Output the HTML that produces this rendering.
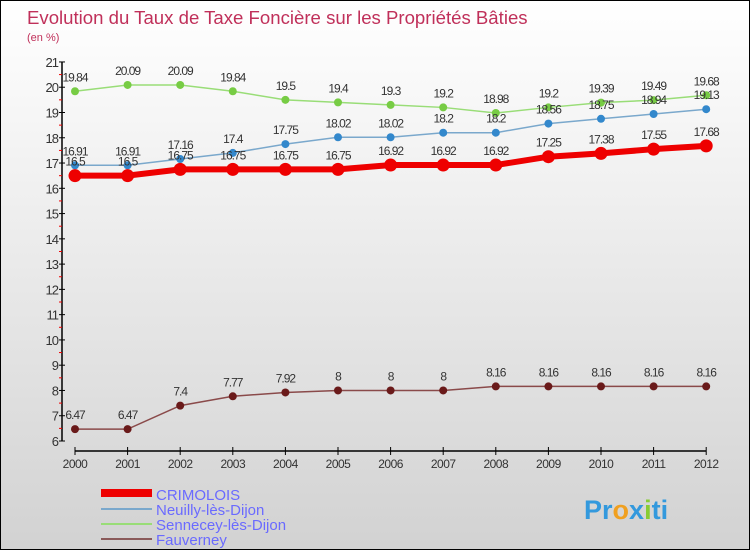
<!DOCTYPE html>
<html><head><meta charset="utf-8"><style>
html,body{margin:0;padding:0}
body{width:750px;height:550px;overflow:hidden;font-family:"Liberation Sans",sans-serif}
#wrap{position:relative;width:748px;height:548px;border:1px solid #000;background:linear-gradient(#ffffff 0%,#f2f2f2 30%,#d2d2d2 100%)}
</style></head><body>
<div id="wrap">
<svg id="chart" width="748" height="548" style="position:absolute;left:0;top:0">
<text x="26" y="23" font-size="18.6" fill="#c0305a">Evolution du Taux de Taxe Foncière sur les Propriétés Bâties</text>
<text x="26" y="40" font-size="11" fill="#c0305a">(en %)</text>
<g id="axes"></g><g id="series"></g>
<g>
<rect x="100" y="488" width="51" height="8" fill="#ee0000"/>
<text x="155" y="499" font-size="15" fill="#6a6aff">CRIMOLOIS</text>
<rect x="100" y="507" width="51" height="2" fill="#7aa8cc"/>
<text x="155" y="514" font-size="15" fill="#6a6aff">Neuilly-lès-Dijon</text>
<rect x="100" y="522" width="51" height="2" fill="#99dd77"/>
<text x="155" y="529" font-size="15" fill="#6a6aff">Sennecey-lès-Dijon</text>
<rect x="100" y="537" width="51" height="2" fill="#8a5a5a"/>
<text x="155" y="544" font-size="15" fill="#6a6aff">Fauverney</text>
</g>
<text x="583" y="518" font-size="27" font-weight="bold"><tspan fill="#3399dd">Pr</tspan><tspan fill="#f0a020">o</tspan><tspan fill="#3399dd">x</tspan><tspan fill="#88cc33">i</tspan><tspan fill="#3399dd">ti</tspan></text>
</svg>
</div>
<script>
const years=[2000,2001,2002,2003,2004,2005,2006,2007,2008,2009,2010,2011,2012];
const crimolois=[16.5,16.5,16.75,16.75,16.75,16.75,16.92,16.92,16.92,17.25,17.38,17.55,17.68];
const neuilly=[16.91,16.91,17.16,17.4,17.75,18.02,18.02,18.2,18.2,18.56,18.75,18.94,19.13];
const sennecey=[19.84,20.09,20.09,19.84,19.5,19.4,19.3,19.2,18.98,19.2,19.39,19.49,19.68];
const fauverney=[6.47,6.47,7.4,7.77,7.92,8,8,8,8.16,8.16,8.16,8.16,8.16];
const yTicks=[6,7,8,9,10,11,12,13,14,15,16,17,18,19,20,21];
const NS="http://www.w3.org/2000/svg";
function X(i){return 74+i*52.6;}
function Y(v){return 440-(v-6)*25.27;}
function mk(t,a,p){const e=document.createElementNS(NS,t);for(const k in a)e.setAttribute(k,a[k]);p.appendChild(e);return e;}
const ax=document.getElementById('axes');
let l=mk('line',{x1:61,y1:Y(21),x2:61,y2:Y(6),stroke:'#000','stroke-width':1.5},ax);


l=mk('line',{x1:X(0),y1:450,x2:X(12),y2:450,stroke:'#000','stroke-width':1.5},ax);


yTicks.forEach((v,i)=>{
  mk('line',{x1:58,y1:Y(v),x2:64,y2:Y(v),stroke:'#000'},ax);
  if(i<yTicks.length-1)mk('line',{x1:58,y1:Y(v+0.5),x2:61,y2:Y(v+0.5),stroke:'#e00'},ax);
  const t=mk('text',{x:57,y:Y(v)+5,'font-size':13,fill:'#333','text-anchor':'end','letter-spacing':'-1'},ax);
  t.textContent=v;
  
  
});
years.forEach((yr,i)=>{
  mk('line',{x1:X(i),y1:446,x2:X(i),y2:454,stroke:'#000'},ax);
  const t=mk('text',{x:X(i),y:467,'font-size':12,fill:'#333','text-anchor':'middle','letter-spacing':'-0.5'},ax);
  t.textContent=yr;
  
  
});
const sg=document.getElementById('series');
function draw(vals,color,w,r,dot,name){
  const g=mk('g',{},sg);
  
  
  mk('polyline',{points:vals.map((v,i)=>X(i)+','+Y(v)).join(' '),fill:'none',stroke:color,'stroke-width':w},g);
  vals.forEach((v,i)=>{
    const c=mk('circle',{cx:X(i),cy:Y(v),r:r,fill:dot},g);
    
    
    const t=mk('text',{x:X(i),y:Y(v)-10,'font-size':12,fill:'#333','text-anchor':'middle','letter-spacing':'-1'},g);
    t.textContent=v;
    
    
  });
}
draw(sennecey,'#99dd77',1.5,4,'#77cc44','sennecey-series');
draw(neuilly,'#7aa8cc',1.5,4,'#3388cc','neuilly-series');
draw(crimolois,'#ee0000',6,6.5,'#ee0000','crimolois-series');
draw(fauverney,'#8a4a4a',1.5,4,'#6a1a1a','fauverney-series');
</script>
</body></html>
